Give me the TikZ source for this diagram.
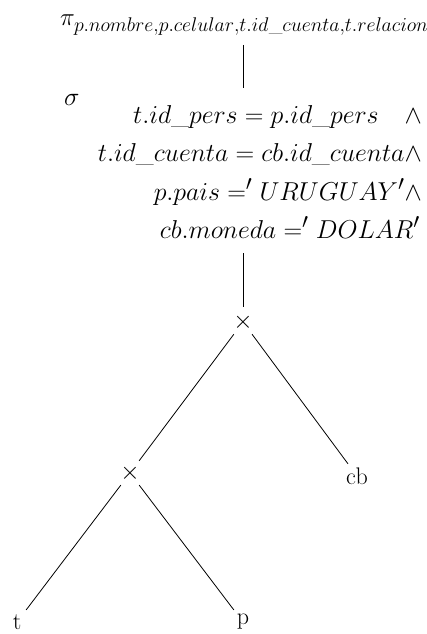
\documentclass[tikz,border=0pt]{standalone}
\usepackage{graphicx}
\newcommand{\subtxt}[1]{\scalebox{0.955}{\fontsize{20.74}{22}\selectfont$#1$}}
\begin{document}
\begin{tikzpicture}[x=1pt,y=-1pt,
  txt/.style={font=\fontsize{24.88}{30}\selectfont, inner sep=0pt},
  cond/.style={txt, scale=1.04, anchor=base east},
  opnode/.style={txt, circle, minimum size=30pt},
  leaf/.style={font=\fontsize{24}{30}\selectfont, inner sep=0pt, circle, minimum size=30pt},
  edge/.style={line width=0.8pt}]
\useasboundingbox (0,0) rectangle (427,634);

% projection and selection
\node[txt, anchor=base west] (proj) at (60,26)
  {$\pi_{\subtxt{p.nombre{,}p.celular{,}t.id\_cuenta{,}t.relacion}}$};
\node[txt, scale=1.04, anchor=base west] (sig) at (64,105) {$\sigma$};
\node[cond] (c1) at (422,123) {$t.id\_pers = p.id\_pers\quad\wedge$};
\node[cond] (c2) at (422,161) {$t.id\_cuenta = cb.id\_cuenta\wedge$};
\node[cond] (c3) at (422,200) {$p.pais =' URUGUAY'\wedge$};
\node[cond] (c4) at (420,238) {$cb.moneda =' DOLAR'$};

% join tree
\node[opnode] (x1) at (243,322) {$\times$};
\node[opnode] (x2) at (130,473) {$\times$};
\node[leaf] (cb) at (357,476) {cb};
\node[leaf] (t) at (17,622) {t};
\node[leaf] (p) at (243,622) {p};

\coordinate (selTop) at (243,88);
\coordinate (selBot) at (243,253);

\draw[edge] (243,45) -- (selTop);
\draw[edge] (selBot) -- (x1);
\draw[edge] (x1) -- (x2);
\draw[edge] (x1) -- (cb);
\draw[edge] (x2) -- (t);
\draw[edge] (x2) -- (p);
\end{tikzpicture}
\end{document}
